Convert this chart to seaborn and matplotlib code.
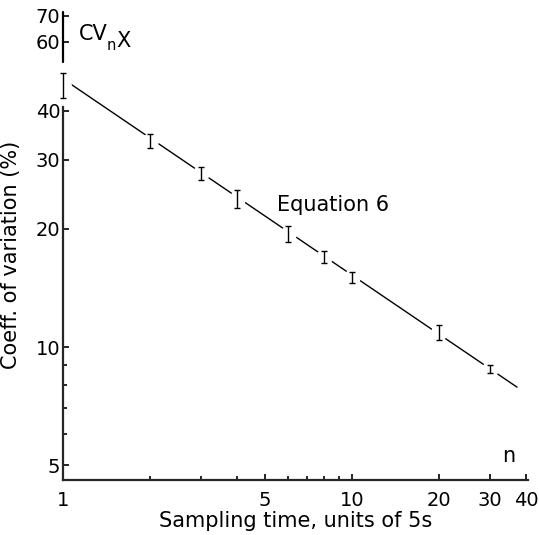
import matplotlib
matplotlib.use("Agg")
import matplotlib.pyplot as plt
import numpy as np
import pandas as pd
import seaborn as sns
from matplotlib.ticker import FixedLocator, FixedFormatter, NullFormatter

# Messpunkte: Stichprobenzeit n und Streubereich des CV (%)
n_values = [1, 2, 3, 4, 6, 8, 10, 20, 30]
cv_low = [43.2, 32.2, 26.7, 22.6, 18.5, 16.4, 14.6, 10.4, 8.58]
cv_high = [50.0, 34.9, 28.8, 25.1, 20.3, 17.6, 15.5, 11.4, 9.0]

eq_n = [1.06, 37.2]
eq_cv = [46.9, 7.9]

x_ticks = [1, 5, 10, 20, 30, 40]
x_minor = [2, 3, 4, 6, 7, 8, 9]
y_ticks = [5, 10, 20, 30, 40, 60, 70]
y_minor = [6, 7, 8, 9]

sns.set_style("ticks")
plt.rcParams['font.family'] = ['DejaVu Sans']
plt.rcParams['text.color'] = 'black'
plt.rcParams['axes.labelcolor'] = 'black'

cv_mid = [(lo + hi) / 2 for lo, hi in zip(cv_low, cv_high)]
err = [[m - lo for m, lo in zip(cv_mid, cv_low)], [hi - m for m, hi in zip(cv_mid, cv_high)]]
df_eq = pd.DataFrame({'n': eq_n, 'cv': eq_cv})

fig = plt.figure(figsize=(5.39, 5.35), dpi=100)
ax = fig.add_axes([0.1169, 0.1028, 0.8627, 0.8748])

sns.lineplot(data=df_eq, x='n', y='cv', color='black', linewidth=1.0, ax=ax, zorder=1)
# weisse Flecken -> Luecken in der Linie um die Fehlerbalken
ax.plot(n_values, cv_mid, 'o', color='white', markersize=11, zorder=2)
eb = ax.errorbar(n_values, cv_mid, yerr=err, fmt='none', ecolor='black',
                 elinewidth=1.0, capsize=2.5, capthick=1.0, zorder=3)
for art in eb.lines[1] + eb.lines[2]:
    art.set_clip_on(False)

ax.set_xscale('log')
ax.set_yscale('log')
ax.set_xlim(1, 40.6)
ax.set_ylim(4.58, 71.5)

ax.xaxis.set_major_locator(FixedLocator(x_ticks))
ax.xaxis.set_major_formatter(FixedFormatter([str(t) for t in x_ticks]))
ax.xaxis.set_minor_locator(FixedLocator(x_minor))
ax.xaxis.set_minor_formatter(NullFormatter())
ax.yaxis.set_major_locator(FixedLocator(y_ticks))
ax.yaxis.set_major_formatter(FixedFormatter([str(t) for t in y_ticks]))
ax.yaxis.set_minor_locator(FixedLocator(y_minor))
ax.yaxis.set_minor_formatter(NullFormatter())

ax.tick_params(axis='both', which='both', direction='in', width=1.2, colors='black', labelsize=14)
ax.tick_params(axis='both', which='major', length=4)
ax.tick_params(axis='both', which='minor', length=3)
ax.tick_params(axis='x', which='both', pad=8)
ax.tick_params(axis='y', which='both', pad=2)

for s in ['top', 'right']:
    ax.spines[s].set_visible(False)
ax.spines['bottom'].set_linewidth(1.6)
ax.spines['left'].set_linewidth(1.6)
# Achsenbruch links
ax.spines['left'].set_bounds(4.58, 41)
ax.plot([0, 0], [53.3, 71.5], color='black', linewidth=1.6,
        transform=ax.get_yaxis_transform(), clip_on=False, zorder=4)

ax.set_xlabel("Sampling time, units of 5s", fontsize=15)
ax.set_ylabel("Coeff. of variation (%)", fontsize=15)
ax.xaxis.set_label_coords(0.5, -0.066)
ax.yaxis.set_label_coords(-0.09, 0.48)

ax.text(5.5, 22.2, "Equation 6", fontsize=15, ha='left', va='baseline')
ax.text(1.136, 60.7, "CV", fontsize=15, ha='left', va='baseline')
ax.text(1.41, 58.2, r"$\mathregular{_n}$X", fontsize=15, ha='left', va='baseline')
ax.text(33.0, 5.09, "n", fontsize=15, ha='left', va='baseline')

fig.savefig("out.png", dpi=100)
